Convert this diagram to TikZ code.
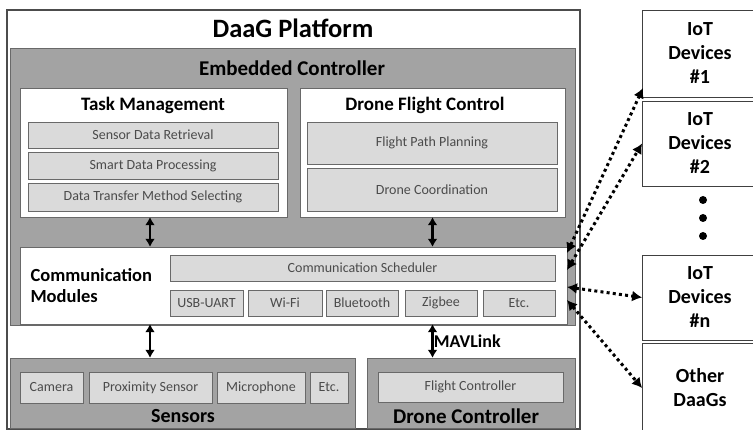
\documentclass[tikz,border=0pt]{standalone}
\usepackage{fontspec}
\setmainfont{Carlito}
\usetikzlibrary{arrows.meta}

\definecolor{bandgray}{RGB}{163,163,163}
\definecolor{subgray}{RGB}{218,218,218}
\definecolor{edgegray}{RGB}{105,105,105}
\definecolor{txtgray}{RGB}{75,75,75}

\tikzstyle{sub}      = [draw=edgegray, fill=subgray, text=txtgray, inner sep=0pt, font=\fontsize{14}{16}\selectfont]
\tikzstyle{panel}    = [draw=edgegray, fill=white, inner sep=0pt]
\tikzstyle{band}     = [draw=edgegray, fill=bandgray]
\tikzstyle{head}     = [font=\bfseries\fontsize{19}{22}\selectfont]
\tikzstyle{peer}     = [draw=black!75, fill=white, thick, align=center, minimum width=115, minimum height=87, font=\bfseries\fontsize{20}{24}\selectfont]
\tikzstyle{link}     = [{Latex[length=8pt,width=10pt]}-{Latex[length=8pt,width=10pt]}, line width=2.3pt]
\tikzstyle{wireless} = [{Latex[length=10pt,width=11pt]}-{Latex[length=10pt,width=11pt]}, line width=3pt, dash pattern=on 3pt off 3.2pt]

\begin{document}
\begin{tikzpicture}[x=1pt, y=-1pt]
  \clip (0,0) rectangle (753,430);
  \fill[white] (0,0) rectangle (753,430);

  % platform
  \draw[black!70, line width=1.2pt, fill=white] (7,10) rectangle (580,429);
  \node at (293,28) (platform) [font=\bfseries\fontsize{26.5}{31}\selectfont] {DaaG Platform};
  \draw[band] (10,48) rectangle (575,325);
  \node at (292,68) (ec) [font=\bfseries\fontsize{21}{24}\selectfont] {Embedded Controller};

  % task management
  \node at (153.5,152.5) (tm) [panel, minimum width=267, minimum height=129] {};
  \node at (153,105) [head] {Task Management};
  \node at (153,135)   (sdr)  [sub, minimum width=250, minimum height=26] {Sensor Data Retrieval};
  \node at (153,165.5) (sdp)  [sub, minimum width=250, minimum height=27] {Smart Data Processing};
  \node at (153,197)   (dtms) [sub, minimum width=250, minimum height=28] {Data Transfer Method Selecting};

  % drone flight control
  \node at (432.5,152.5) (dfc) [panel, minimum width=265, minimum height=129] {};
  \node at (425,105) [head] {Drone Flight Control};
  \node at (432,143)   (fpp) [sub, minimum width=250, minimum height=42] {Flight Path Planning};
  \node at (432,189.5) (dco) [sub, minimum width=250, minimum height=43] {Drone Coordination};

  % communication modules
  \node at (293.5,285.5) (cm) [panel, minimum width=547, minimum height=77] {};
  \node at (27,286) [anchor=west, align=left, font=\bfseries\fontsize{18.5}{21}\selectfont] {Communication\\Modules};
  \node at (362.5,268) (sched) [sub, minimum width=385, minimum height=26] {Communication Scheduler};
  \node at (206.5,303) (usb)  [sub, minimum width=73, minimum height=26] {USB-UART};
  \node at (285,303)   (wifi) [sub, minimum width=74, minimum height=26] {Wi-Fi};
  \node at (362,303)   (bt)   [sub, minimum width=72, minimum height=26] {Bluetooth};
  \node at (441,303)   (zig)  [sub, minimum width=72, minimum height=26] {Zigbee};
  \node at (519,303)   (etc1) [sub, minimum width=72, minimum height=26] {Etc.};

  % sensors
  \node at (182.5,393) (sens) [band, minimum width=345, minimum height=70, inner sep=0pt] {};
  \node at (183,416) [font=\bfseries\fontsize{20}{24}\selectfont] {Sensors};
  \node at (51.5,387.5) (cam)  [sub, minimum width=63, minimum height=31] {Camera};
  \node at (150.5,387.5) (prox) [sub, minimum width=123, minimum height=31] {Proximity Sensor};
  \node at (261,387.5)  (mic)  [sub, minimum width=88, minimum height=31] {Microphone};
  \node at (329,387.5)  (etc2) [sub, minimum width=38, minimum height=31] {Etc.};

  % drone controller
  \node at (471,393) (dc) [band, minimum width=208, minimum height=70, inner sep=0pt] {};
  \node at (466,416) [font=\bfseries\fontsize{21}{24}\selectfont] {Drone Controller};
  \node at (470.5,387) (fc) [sub, minimum width=185, minimum height=30] {Flight Controller};

  % internal links
  \draw[link] (tm.south -| 150,0) -- (cm.north -| 150,0);
  \draw[link] (dfc.south) -- (dfc.south |- cm.north);
  \draw[link] (cm.south -| 150,0) -- (sens.north -| 150,0);
  \draw[link] (cm.south -| dfc.south) -- node[right, xshift=-3pt, font=\bfseries\fontsize{18}{21}\selectfont] {MAVLink} (dc.north -| dfc.south);

  % outside
  \node at (700,53.5)  (iot1)  [peer] {IoT\\Devices\\\#1};
  \node at (700,143.5) (iot2)  [peer, minimum height=85] {IoT\\Devices\\\#2};
  \node at (703,200) (dot1) [circle, fill=black, inner sep=0pt, minimum size=8] {};
  \node at (703,218) (dot2) [circle, fill=black, inner sep=0pt, minimum size=8] {};
  \node at (703,236) (dot3) [circle, fill=black, inner sep=0pt, minimum size=8] {};
  \node at (700,297.5) (iotn)  [peer, minimum height=85] {IoT\\Devices\\\#n};
  \node at (700,388)   (other) [peer, minimum height=90] {Other\\DaaGs};

  \coordinate (p1) at (567,253);
  \coordinate (p2) at (567,270);
  \coordinate (p3) at (567,287);
  \coordinate (p4) at (567,300);
  \coordinate (q1) at (643,88);
  \draw[wireless] (p1) -- (q1);
  \draw[wireless] (p2) -- (iot2.west);
  \draw[wireless] (p3) -- (iotn.west);
  \draw[wireless] (p4) -- (other.west);
\end{tikzpicture}
\end{document}
